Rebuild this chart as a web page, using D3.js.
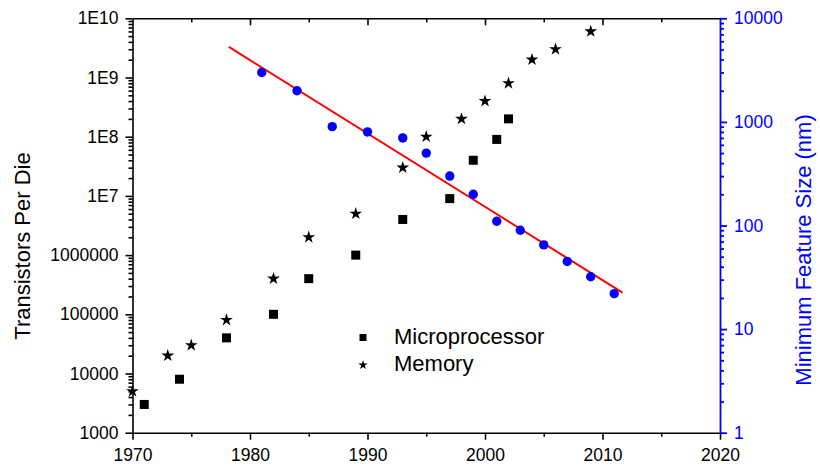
<!DOCTYPE html>
<html>
<head>
<meta charset="utf-8">
<script src="https://cdn.jsdelivr.net/npm/d3@7/dist/d3.min.js"></script>
<style>
  html, body { margin: 0; padding: 0; background: #fff; }
  svg { display: block; font-family: "Liberation Sans", Arial, sans-serif; }
</style>
</head>
<body>
<svg id="chart" width="820" height="471"></svg>
<script>
// ---- Data ----
const cpuYears   = [1971, 1974, 1978, 1982, 1985, 1989, 1993, 1997, 1999, 2001, 2002];
const cpuValues  = [3000, 8000, 40000, 100000, 400000, 1e6, 4e6, 9e6, 4e7, 9e7, 2e8];

const memYears   = [1970, 1973, 1975, 1978, 1982, 1985, 1989, 1993, 1995, 1998, 2000, 2002, 2004, 2006, 2009];
const memValues  = [5000, 20000, 30000, 80000, 400000, 2e6, 5e6, 3e7, 1e8, 2e8, 4e8, 8e8, 2e9, 3e9, 6e9];

const featYears  = [1981, 1984, 1987, 1990, 1993, 1995, 1997, 1999, 2001, 2003, 2005, 2007, 2009, 2011];
const featValues = [3000, 2000, 900, 800, 700, 500, 300, 200, 110, 90, 65, 45, 32, 22];

const fitYears   = [1978.2, 2011.7];
const fitValues  = [5300, 22.5];

const xTicks      = [1970, 1980, 1990, 2000, 2010, 2020];
const leftTicks   = [1e3, 1e4, 1e5, 1e6, 1e7, 1e8, 1e9, 1e10];
const leftLabels  = ["1000", "10000", "100000", "1000000", "1E7", "1E8", "1E9", "1E10"];
const rightTicks  = [1, 10, 100, 1000, 10000];
const rightLabels = ["1", "10", "100", "1000", "10000"];

// ---- Layout ----
const svg = d3.select("#chart");
const L = 132.5, R = 720, T = 18.3, B = 432.7;
const BLUE = "#0000ff", RED = "#ff0000";

const x  = d3.scaleLinear().domain([1970, 2020]).range([L, R]);
const yL = d3.scaleLog().domain([1e3, 1e10]).range([B, T]);
const yR = d3.scaleLog().domain([1, 1e4]).range([B, T]);

function minorLog(lo, hi) {
  const out = [];
  for (let d = lo; d < hi; d *= 10) for (let k = 2; k <= 9; k++) out.push(d * k);
  return out;
}

const tickFont = "17.5px";

// Bottom axis
const gB = svg.append("g").attr("transform", `translate(0,${B})`)
  .call(d3.axisBottom(x).tickValues(xTicks).tickSize(7).tickSizeOuter(0).tickPadding(9).tickFormat(d3.format("d")));
const gBm = svg.append("g").attr("transform", `translate(0,${B})`)
  .call(d3.axisBottom(x).tickValues([1975, 1985, 1995, 2005, 2015]).tickSize(4).tickSizeOuter(0).tickFormat(""));
gBm.select(".domain").remove();

// Top axis (ticks inward)
const gT = svg.append("g").attr("transform", `translate(0,${T})`)
  .call(d3.axisBottom(x).tickValues(xTicks.slice(1, -1)).tickSize(7).tickSizeOuter(0).tickFormat(""));
const gTm = svg.append("g").attr("transform", `translate(0,${T})`)
  .call(d3.axisBottom(x).tickValues([1975, 1985, 1995, 2005, 2015]).tickSize(4).tickSizeOuter(0).tickFormat(""));
gTm.select(".domain").remove();

// Left axis
const gL = svg.append("g").attr("transform", `translate(${L},0)`)
  .call(d3.axisLeft(yL).tickValues(leftTicks).tickSize(7).tickSizeOuter(0).tickPadding(7)
    .tickFormat((d, i) => leftLabels[i]));
const gLm = svg.append("g").attr("transform", `translate(${L},0)`)
  .call(d3.axisLeft(yL).tickValues(minorLog(1e3, 1e10)).tickSize(4).tickSizeOuter(0).tickFormat(""));
gLm.select(".domain").remove();

// Right axis
const gR = svg.append("g").attr("transform", `translate(${R},0)`)
  .call(d3.axisRight(yR).tickValues(rightTicks).tickSize(7).tickSizeOuter(0).tickPadding(7)
    .tickFormat((d, i) => rightLabels[i]));
const gRm = svg.append("g").attr("transform", `translate(${R},0)`)
  .call(d3.axisRight(yR).tickValues(minorLog(1, 1e4)).tickSize(4).tickSizeOuter(0).tickFormat(""));
gRm.select(".domain").remove();

[gB, gBm, gT, gTm, gL, gLm].forEach(g => {
  g.selectAll("path, line").attr("stroke", "#000").attr("stroke-width", 1.6);
  g.selectAll("text").attr("fill", "#000").style("font-size", tickFont);
});
[gR, gRm].forEach(g => {
  g.selectAll("path, line").attr("stroke", BLUE).attr("stroke-width", 1.8);
  g.selectAll("text").attr("fill", BLUE).style("font-size", tickFont);
});
gB.selectAll("text").attr("dy", "0.71em");

// Axis titles
svg.append("text")
  .attr("transform", `translate(30,246) rotate(-90)`)
  .attr("text-anchor", "middle").style("font-size", "22px").attr("fill", "#000")
  .text("Transistors Per Die");
svg.append("text")
  .attr("transform", `translate(810.5,250) rotate(-90)`)
  .attr("text-anchor", "middle").style("font-size", "22px").attr("fill", BLUE)
  .text("Minimum Feature Size (nm)");

// Fit line
const line = d3.line().x(d => x(d[0])).y(d => yR(d[1]));
svg.append("path")
  .datum(fitYears.map((yr, i) => [yr, fitValues[i]]))
  .attr("d", line).attr("fill", "none").attr("stroke", RED).attr("stroke-width", 2);

// Feature size circles
svg.append("g").selectAll("circle")
  .data(featYears.map((yr, i) => [yr, featValues[i]]))
  .join("circle")
  .attr("cx", d => x(d[0])).attr("cy", d => yR(d[1])).attr("r", 4.7).attr("fill", BLUE);

// Microprocessor squares
const sq = 9;
svg.append("g").selectAll("rect")
  .data(cpuYears.map((yr, i) => [yr, cpuValues[i]]))
  .join("rect")
  .attr("x", d => x(d[0]) - sq / 2).attr("y", d => yL(d[1]) - sq / 2)
  .attr("width", sq).attr("height", sq).attr("fill", "#000");

// Memory stars
const star = d3.symbol().type(d3.symbolStar).size(50);
svg.append("g").selectAll("path")
  .data(memYears.map((yr, i) => [yr, memValues[i]]))
  .join("path")
  .attr("transform", d => `translate(${x(d[0])},${yL(d[1])})`)
  .attr("d", star).attr("fill", "#000");

// Legend
const lg = svg.append("g");
lg.append("rect").attr("x", 363 - 3.5).attr("y", 337.5 - 3.5).attr("width", 7).attr("height", 7).attr("fill", "#000");
lg.append("text").attr("x", 394).attr("y", 344.3).style("font-size", "22px").attr("fill", "#000").text("Microprocessor");
lg.append("path").attr("transform", "translate(363,365)")
  .attr("d", d3.symbol().type(d3.symbolStar).size(28)).attr("fill", "#000");
lg.append("text").attr("x", 394).attr("y", 370.5).style("font-size", "22px").attr("fill", "#000").text("Memory");
</script>
</body>
</html>
